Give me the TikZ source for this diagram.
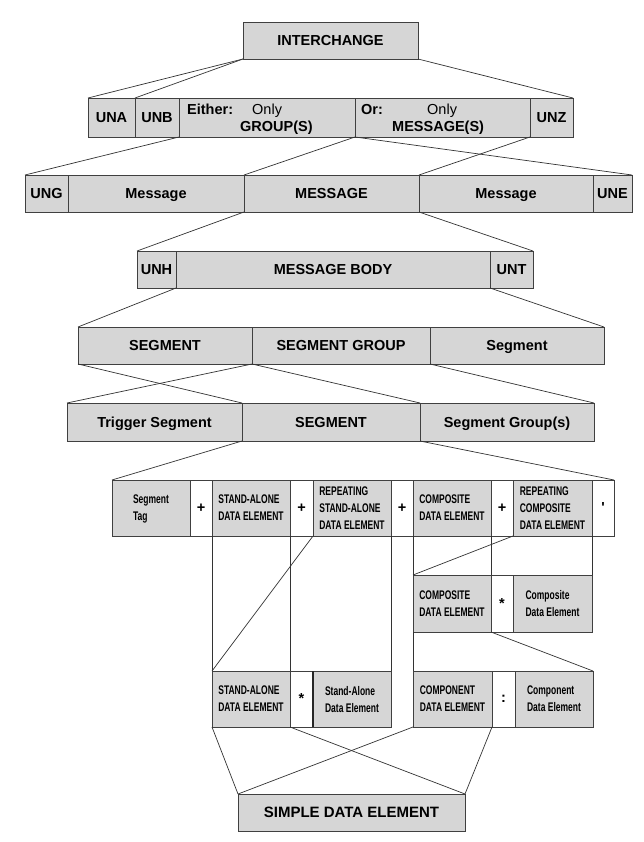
\documentclass[tikz,border=0pt]{standalone}
\usepackage{fontspec}
\setmainfont{Liberation Sans}
\newfontfamily\narrowfont[FakeStretch=0.68]{Liberation Sans}
\definecolor{cellgray}{RGB}{214,214,214}

\begin{document}
\begin{tikzpicture}[x=1pt, y=-1pt,
  cell/.style={draw=black!75, fill=cellgray, line width=0.8pt, anchor=north west,
    inner sep=0pt, outer sep=0pt, minimum height=37pt, text height=10.5pt, text depth=0pt,
    font=\fontsize{14.5}{17}\selectfont\bfseries, align=center},
  sepcell/.style={cell, fill=white, minimum height=56pt, text height={}, text depth={}},
  nbox/.style={cell, minimum height=56pt, align=left, text height={}, text depth=0pt,
    font=\narrowfont\fontsize{12.5}{17}\selectfont\bfseries},
  link/.style={black!80, line width=0.7pt}]
\fill[white] (0,0) rectangle (643,842);
\useasboundingbox (0,0) rectangle (643,842);

% interchange
\node[cell, minimum width=175pt] (ich) at (243,22) {INTERCHANGE};

% service segments and groups
\node[cell, minimum width=47pt, minimum height=39pt] (una) at (88,98) {UNA};
\node[cell, minimum width=44pt, minimum height=39pt] (unb) at (135,98) {UNB};
\node[cell, minimum width=176pt, minimum height=39pt] (either) at (179,98) {};
\node[cell, minimum width=175pt, minimum height=39pt] (orbox) at (355,98) {};
\node[cell, minimum width=43pt, minimum height=39pt] (unz) at (530,98) {UNZ};
\node[anchor=base west, inner sep=0pt, font=\fontsize{14.5}{17}\selectfont] (eitherlbl) at (187,115) {\textbf{Either:}};
\node[anchor=base west, inner sep=0pt, font=\fontsize{14.5}{17}\selectfont] (eitheronly) at (252,115) {Only};
\node[anchor=base west, inner sep=0pt, font=\fontsize{14.5}{17}\selectfont\bfseries] (groups) at (240,132) {GROUP(S)};
\node[anchor=base west, inner sep=0pt, font=\fontsize{14.5}{17}\selectfont] (orlbl) at (361,115) {\textbf{Or:}};
\node[anchor=base west, inner sep=0pt, font=\fontsize{14.5}{17}\selectfont] (oronly) at (427,115) {Only};
\node[anchor=base west, inner sep=0pt, font=\fontsize{14.5}{17}\selectfont\bfseries] (msgs) at (392,132) {MESSAGE(S)};

% functional group
\node[cell, minimum width=43pt] (ung) at (25,175) {UNG};
\node[cell, minimum width=176pt] (msgl) at (68,175) {Message};
\node[cell, minimum width=175pt] (msg) at (244,175) {MESSAGE};
\node[cell, minimum width=174pt] (msgr) at (419,175) {Message};
\node[cell, minimum width=39pt] (une) at (593,175) {UNE};

% message
\node[cell, minimum width=39pt] (unh) at (137,251) {UNH};
\node[cell, minimum width=314pt] (body) at (176,251) {MESSAGE BODY};
\node[cell, minimum width=43pt] (unt) at (490,251) {UNT};

% message body
\node[cell, minimum width=174pt] (seg) at (78,327) {SEGMENT};
\node[cell, minimum width=178pt] (sgrp) at (252,327) {SEGMENT GROUP};
\node[cell, minimum width=174pt] (segr) at (430,327) {Segment};

% segment group
\node[cell, minimum width=175pt, minimum height=38pt] (trig) at (67,403) {Trigger Segment};
\node[cell, minimum width=178pt, minimum height=38pt] (segm) at (242,403) {SEGMENT};
\node[cell, minimum width=174pt, minimum height=38pt] (sgrps) at (420,403) {Segment Group(s)};

% segment
\node[nbox, minimum width=78pt] (tag) at (112,480) {Segment\\Tag};
\node[sepcell, minimum width=22pt] (plusa) at (190,480) {+};
\node[nbox, minimum width=78pt] (sade) at (212,480) {STAND-ALONE\\DATA ELEMENT};
\node[sepcell, minimum width=23pt] (plusb) at (290,480) {+};
\node[nbox, minimum width=78pt] (rsade) at (313,480) {REPEATING\\STAND-ALONE\\DATA ELEMENT};
\node[sepcell, minimum width=22pt] (plusc) at (391,480) {+};
\node[nbox, minimum width=78pt] (cde) at (413,480) {COMPOSITE\\DATA ELEMENT};
\node[sepcell, minimum width=22pt] (plusd) at (491,480) {+};
\node[nbox, minimum width=79pt] (rcde) at (513,480) {REPEATING\\COMPOSITE\\DATA ELEMENT};
\node[sepcell, minimum width=22pt] (apo) at (592,480) {\textquotesingle};

% composite
\node[nbox, minimum width=78pt, minimum height=57pt] (cdeb) at (413,575) {COMPOSITE\\DATA ELEMENT};
\node[sepcell, minimum width=22pt, minimum height=57pt] (stara) at (491,575) {*};
\node[nbox, minimum width=79pt, minimum height=57pt] (cdel) at (513,575) {Composite\\Data Element};

% data elements
\node[nbox, minimum width=78pt] (sadeb) at (212,671) {STAND-ALONE\\DATA ELEMENT};
\node[sepcell, minimum width=23pt] (starb) at (290,671) {*};
\node[nbox, minimum width=78pt] (sadel) at (313,671) {Stand-Alone\\Data Element};
\node[nbox, minimum width=79pt] (comp) at (413,671) {COMPONENT\\DATA ELEMENT};
\node[sepcell, minimum width=23pt] (colon) at (492,671) {:};
\node[nbox, minimum width=78pt] (compl) at (515,671) {Component\\Data Element};
\draw[black!85, line width=1.6pt] (starb.north east) -- (starb.south east);

\node[cell, minimum width=227pt, font=\fontsize{15}{17}\selectfont\bfseries] (sde) at (238,794) {SIMPLE DATA ELEMENT};

% expansions
\draw[link] (ich.south west) -- (una.north west);
\draw[link] (ich.south west) -- (unb.north west);
\draw[link] (ich.south east) -- (unz.north east);
\draw[link] (unb.south east) -- (ung.north west);
\draw[link] (orbox.south west) -- (msg.north west);
\draw[link] (orbox.south west) -- (une.north east);
\draw[link] (unz.south west) -- (msg.north east);
\draw[link] (msg.south west) -- (unh.north west);
\draw[link] (msg.south east) -- (unt.north east);
\draw[link] (unh.south east) -- (seg.north west);
\draw[link] (unt.south west) -- (segr.north east);
\draw[link] (seg.south west) -- (segm.north west);
\draw[link] (sgrp.south west) -- (trig.north west);
\draw[link] (sgrp.south west) -- (sgrps.north west);
\draw[link] (segr.south west) -- (sgrps.north east);
\draw[link] (segm.south west) -- (tag.north west);
\draw[link] (segm.south east) -- (apo.north east);
\draw[link] (sade.south west) -- (sadeb.north west);
\draw[link] (sade.south east) -- (sadeb.north east);
\draw[link] (rsade.south west) -- (sadeb.north west);
\draw[link] (rsade.south east) -- (sadel.north east);
\draw[link] (cde.south west) -- (cdeb.north west);
\draw[link] (cde.south east) -- (cdeb.north east);
\draw[link] (rcde.south west) -- (cdeb.north west);
\draw[link] (rcde.south east) -- (cdel.north east);
\draw[link] (cdeb.south west) -- (comp.north west);
\draw[link] (cdeb.south east) -- (compl.north east);
\draw[link] (sadeb.south west) -- (sde.north west);
\draw[link] (sadeb.south east) -- (sde.north east);
\draw[link] (comp.south west) -- (sde.north west);
\draw[link] (comp.south east) -- (sde.north east);
\end{tikzpicture}
\end{document}
